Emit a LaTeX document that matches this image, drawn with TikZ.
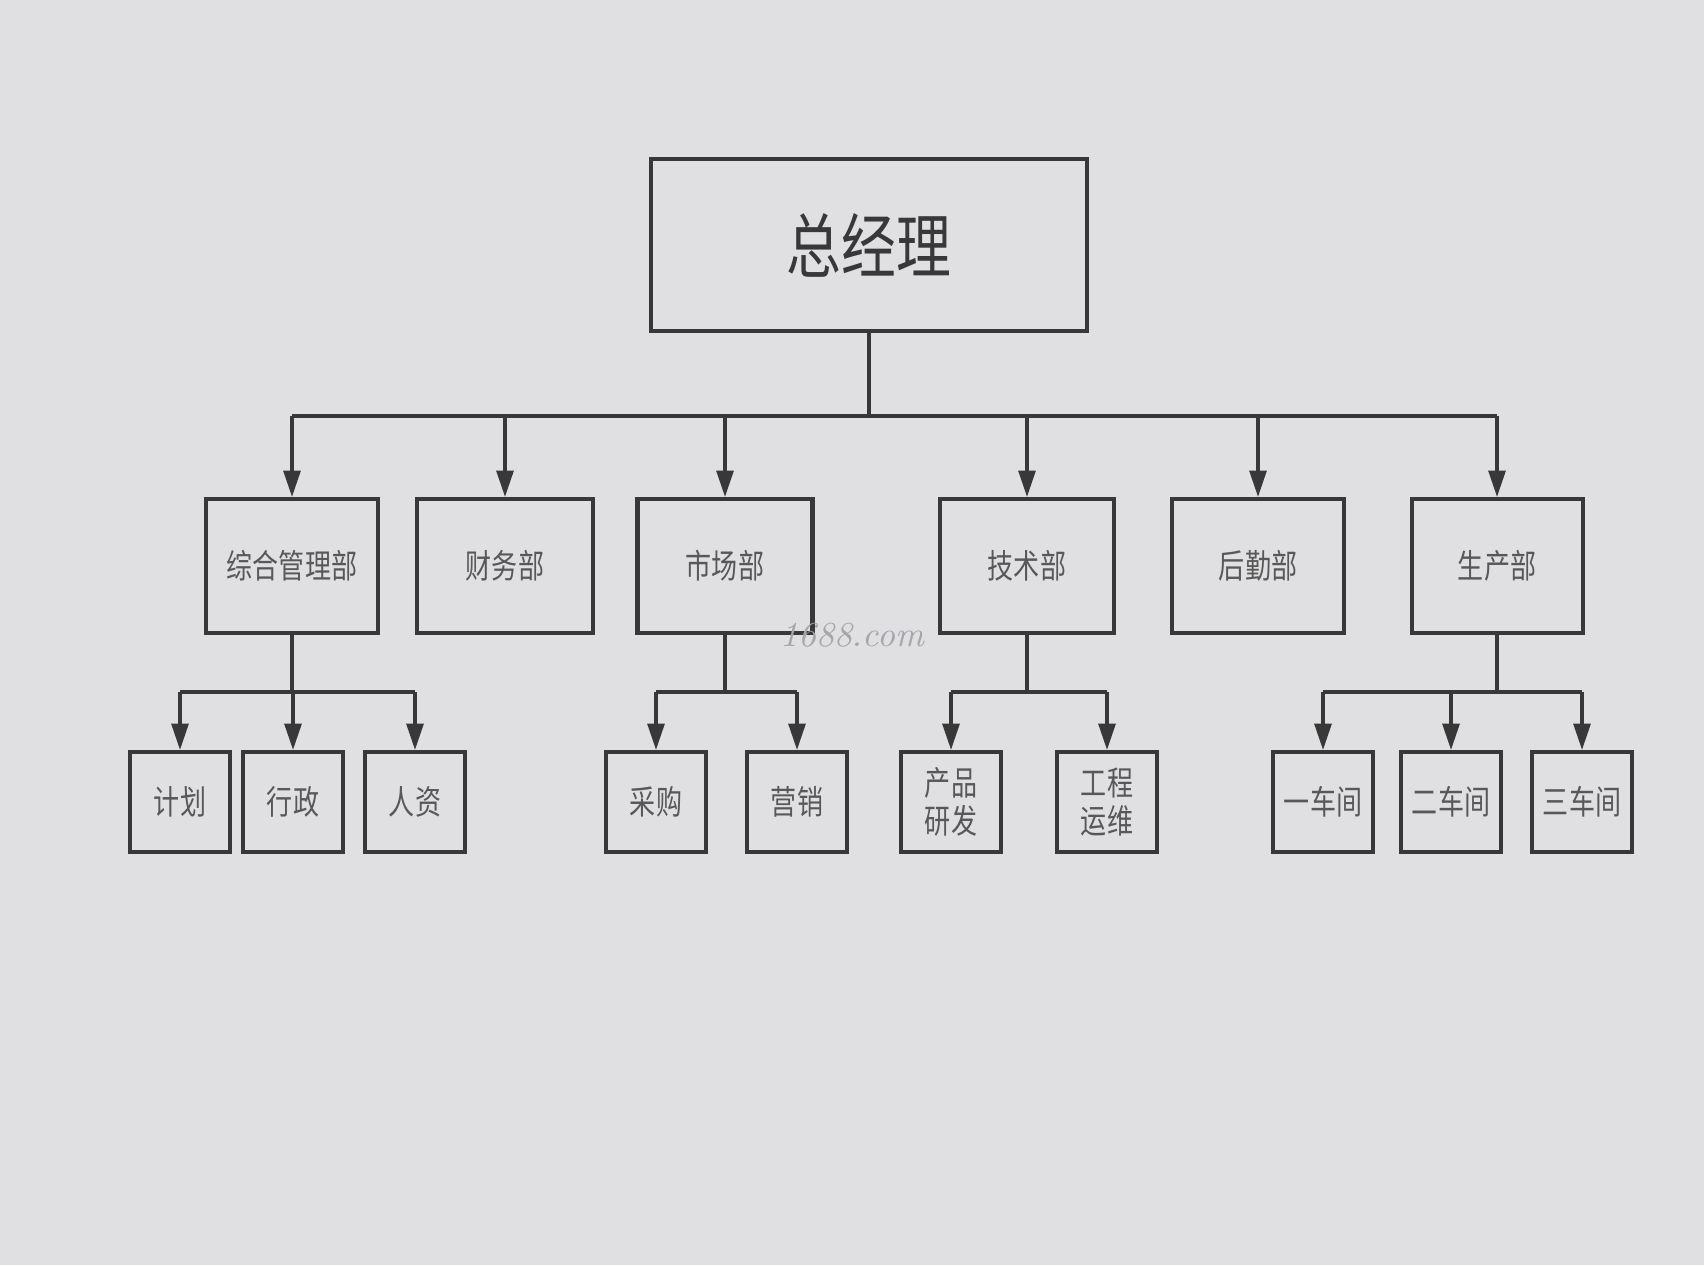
\documentclass[tikz,border=0pt]{standalone}
\usepackage{fontspec}
\newfontfamily\cjk[FakeStretch=0.78]{Noto Sans CJK SC}
\usepackage{xcolor}
\usepackage{tikz}
\usetikzlibrary{
  arrows.meta,
  positioning,
  calc,
}

\definecolor{paper}{RGB}{224,224,226}
\definecolor{ink}{RGB}{56,56,56}
\definecolor{txt}{RGB}{88,88,88}
\definecolor{mark}{RGB}{165,165,170}

\begin{document}
\begin{tikzpicture}[
  font=\cjk,
  every node/.style={align=center},
  box/.style={draw=ink, line width=1.15pt, inner sep=0pt, text=txt,
    font=\cjk\fontsize{9.5}{11}\selectfont},
  topbox/.style={box, line width=0.95pt, minimum width=4.36cm,
    minimum height=1.72cm, text=ink, font=\cjk\fontsize{20}{22}\selectfont},
  dept/.style={box, minimum width=#1, minimum height=1.34cm},
  unitbox/.style={box, minimum width=1.0cm, minimum height=1.00cm},
  conn/.style={draw=ink, line width=0.95pt},
  arrow/.style={conn, -{Triangle[length=7.5pt,width=4.8pt]}},
]

\useasboundingbox[fill=paper] (0,0) rectangle (17.04,12.65);

\node[topbox] (gm) at (8.69,10.20) {总经理};

%% departments
\node[dept=1.72cm] (zh)  at (2.92,6.99)  {综合管理部};
\node[dept=1.76cm] (cw)  at (5.05,6.99)  {财务部};
\node[dept=1.75cm] (sc)  at (7.25,6.99)  {市场部};
\node[dept=1.74cm] (js)  at (10.27,6.99) {技术部};
\node[dept=1.72cm] (hq)  at (12.58,6.99) {后勤部};
\node[dept=1.71cm] (scb) at (14.97,6.99) {生产部};

%% sections
\node[unitbox] (jh) at (1.80,4.63)  {计划};
\node[unitbox] (xz) at (2.93,4.63)  {行政};
\node[unitbox] (rz) at (4.15,4.63)  {人资};
\node[unitbox] (cg) at (6.56,4.63)  {采购};
\node[unitbox] (yx) at (7.97,4.63)  {营销};
\node[unitbox] (cp) at (9.51,4.63)  {产品\\研发};
\node[unitbox] (gc) at (11.07,4.63) {工程\\运维};
\node[unitbox] (c1) at (13.23,4.63) {一车间};
\node[unitbox] (c2) at (14.51,4.63) {二车间};
\node[unitbox] (c3) at (15.82,4.63) {三车间};

\coordinate (bar) at (8.69,8.49);
\coordinate (subbar) at (0,5.73);

%% general manager to departments
\draw[conn] (gm.south) -- (gm.south |- bar);
\draw[conn] (zh.north |- bar) -- (scb.north |- bar);
\foreach \d in {zh,cw,sc,js,hq,scb}
  \draw[arrow] (\d.north |- bar) -- (\d.north);

%% departments to sections
\foreach \p/\a/\b in {zh/jh/rz, sc/cg/yx, js/cp/gc, scb/c1/c3}{
  \draw[conn] (\p.south) -- (\p.south |- subbar);
  \draw[conn] (\a.north |- subbar) -- (\b.north |- subbar);
}
\foreach \u in {jh,xz,rz,cg,yx,cp,gc,c1,c2,c3}
  \draw[arrow] (\u.north |- subbar) -- (\u.north);

\node[font=\normalfont\itshape\fontsize{10}{10}\selectfont, text=mark]
  (wm) at (8.52,6.30) {1688.com};

\end{tikzpicture}
\end{document}
